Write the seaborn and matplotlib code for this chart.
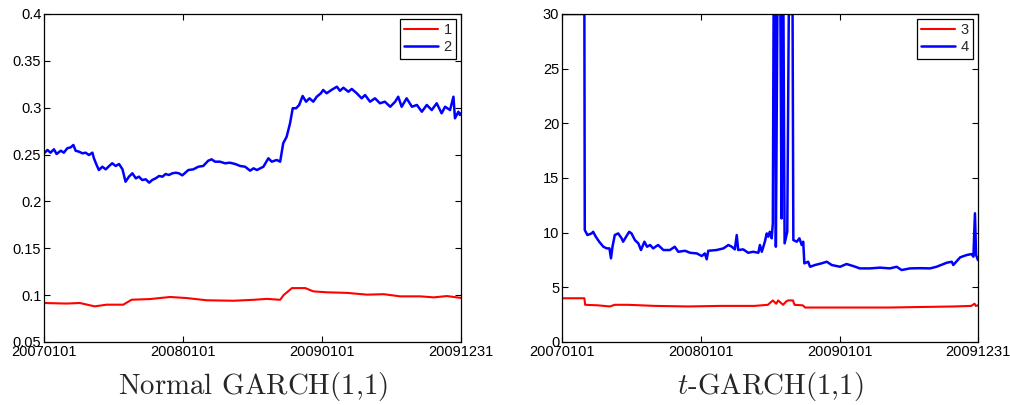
import pandas as pd
import matplotlib.pyplot as plt
import seaborn as sns

# ---- data (x = calendar day since 2007-01-01) ----
# Normal GARCH(1,1): series 1 (red) and 2 (blue)
days_n1 = [0, 59, 94, 133, 164, 208, 230, 278, 331, 374, 427, 497, 550, 585,
           620, 629, 651, 686, 707, 743, 795, 848, 892, 935, 988, 1023, 1058, 1095]
vals_n1 = [0.0916, 0.091, 0.0916, 0.088, 0.0898, 0.0898, 0.0951, 0.0958, 0.098,
           0.0969, 0.0945, 0.094, 0.095, 0.096, 0.095, 0.100, 0.1075, 0.1075,
           0.104, 0.103, 0.1024, 0.1005, 0.101, 0.0987, 0.0987, 0.0976, 0.099, 0.097]

days_n2 = [0, 9, 17, 26, 33, 44, 52, 61, 70, 77, 83, 92, 101, 109, 118, 127, 131,
           138, 144, 153, 162, 171, 179, 188, 197, 206, 214, 223, 232, 241, 249,
           258, 267, 276, 284, 293, 302, 311, 319, 328, 337, 346, 354, 363, 379,
           392, 405, 418, 431, 440, 449, 462, 475, 488, 502, 515, 528, 541, 550,
           559, 576, 589, 598, 611, 620, 628, 637, 646, 653, 662, 670, 679, 688,
           697, 707, 716, 727, 733, 742, 755, 769, 777, 786, 799, 808, 821, 834,
           843, 856, 869, 882, 895, 909, 922, 930, 939, 952, 966, 979, 992, 1005,
           1018, 1031, 1044, 1053, 1066, 1075, 1079, 1088, 1092, 1095]
vals_n2 = [0.2513, 0.2549, 0.252, 0.2556, 0.2506, 0.2541, 0.252, 0.2567, 0.2577,
           0.2602, 0.2541, 0.253, 0.2513, 0.252, 0.2495, 0.252, 0.246, 0.2389,
           0.2335, 0.237, 0.2342, 0.2378, 0.2407, 0.2378, 0.2399, 0.2342, 0.221,
           0.2264, 0.23, 0.2246, 0.2264, 0.2228, 0.2236, 0.22, 0.2228, 0.2246,
           0.2271, 0.2264, 0.2292, 0.2282, 0.23, 0.2306, 0.23, 0.2278, 0.2335,
           0.2342, 0.237, 0.2378, 0.2434, 0.2449, 0.2424, 0.2424, 0.2407, 0.2413,
           0.2399, 0.2378, 0.237, 0.2328, 0.2353, 0.2335, 0.237, 0.246, 0.2424,
           0.2442, 0.2424, 0.262, 0.269, 0.2834, 0.2994, 0.2994, 0.3029, 0.3125,
           0.3064, 0.31, 0.3064, 0.3117, 0.3154, 0.3189, 0.3154, 0.319, 0.3224,
           0.318, 0.3213, 0.317, 0.320, 0.3154, 0.310, 0.3135, 0.3064, 0.310,
           0.3047, 0.3064, 0.301, 0.3064, 0.3117, 0.301, 0.310, 0.301, 0.3029,
           0.2957, 0.3029, 0.2975, 0.3047, 0.294, 0.301, 0.2975, 0.3117, 0.2887,
           0.2957, 0.2922, 0.294]

# t-GARCH(1,1): series 3 (red) and 4 (blue)
days_t3 = [0, 59, 61, 95, 126, 139, 174, 244, 332, 419, 507, 542, 555, 564, 569,
           582, 590, 595, 608, 612, 634, 640, 683, 770, 858, 946, 1034, 1077,
           1086, 1089, 1095]
vals_t3 = [4.0, 4.0, 3.4, 3.35, 3.25, 3.4, 3.4, 3.3, 3.25, 3.3, 3.3, 3.4, 3.8,
           3.5, 3.8, 3.4, 3.7, 3.8, 3.8, 3.4, 3.35, 3.15, 3.15, 3.15, 3.15, 3.2,
           3.25, 3.3, 3.5, 3.3, 3.35]

days_t4 = [0, 59, 60, 67, 78, 82, 89, 98, 109, 118, 125, 129, 133, 139, 148, 157,
           161, 170, 177, 183, 192, 201, 208, 217, 224, 232, 240, 253, 267, 284,
           297, 306, 324, 337, 355, 368, 376, 381, 385, 407, 425, 438, 447, 455,
           460, 464, 477, 490, 503, 517, 521, 526, 534, 539, 543, 547, 552, 555,
           557, 561, 563, 567, 575, 578, 581, 583, 586, 593, 597, 607, 609, 618,
           625, 631, 635, 638, 648, 653, 666, 683, 697, 710, 732, 749, 767, 784,
           811, 837, 863, 881, 894, 916, 942, 969, 986, 1013, 1026, 1030, 1048,
           1065, 1078, 1083, 1087, 1090, 1095]
vals_t4 = [30, 30, 10.24, 9.78, 9.93, 10.08, 9.63, 9.17, 8.71, 8.56, 8.56, 7.65,
           8.71, 9.78, 9.93, 9.48, 9.17, 9.69, 10.08, 9.93, 9.32, 9.02, 8.41,
           9.17, 8.71, 8.87, 8.56, 8.87, 8.41, 8.41, 8.71, 8.25, 8.34, 8.16, 8.1,
           7.86, 8.1, 7.56, 8.34, 8.41, 8.56, 8.87, 8.71, 8.47, 9.78, 8.41, 8.47,
           8.16, 8.25, 8.16, 8.87, 8.25, 9.17, 9.93, 9.63, 10.08, 9.48, 10.85,
           30, 30, 8.71, 30, 30, 11.3, 30, 30, 9.02, 10.08, 30, 30, 9.32, 9.17,
           9.48, 8.87, 9.17, 7.19, 7.34, 6.88, 7.04, 7.19, 7.34, 7.04, 6.88, 7.13,
           6.94, 6.73, 6.73, 6.8, 6.73, 6.88, 6.58, 6.73, 6.75, 6.73, 6.88, 7.25,
           7.34, 7.04, 7.74, 7.95, 8.04, 7.8, 11.77, 7.95, 7.49]

tick_days = [0, 365, 731, 1095]
tick_labels = ['20070101', '20080101', '20090101', '20091231']
yticks_n = [0.05, 0.1, 0.15, 0.2, 0.25, 0.3, 0.35, 0.4]
yticks_t = [0, 5, 10, 15, 20, 25, 30]

sns.set_style('ticks')
plt.rcParams['font.family'] = ['Liberation Sans', 'DejaVu Sans']
plt.rcParams['mathtext.fontset'] = 'cm'

fig = plt.figure(figsize=(10.1, 4.05), dpi=100)
ax1 = fig.add_axes([0.0436, 0.1556, 0.4129, 0.8099])
ax2 = fig.add_axes([0.5564, 0.1556, 0.4119, 0.8099])

panels = [
    (ax1, days_n1, vals_n1, '1', days_n2, vals_n2, '2', yticks_n,
     r'$\text{Normal GARCH(1,1)}$'),
    (ax2, days_t3, vals_t3, '3', days_t4, vals_t4, '4', yticks_t,
     r'$t\text{-GARCH(1,1)}$'),
]

for ax, xr, yr, lr, xb, yb, lb, yt, title in panels:
    sns.lineplot(x=xr, y=yr, color='#ff0000', lw=1.5, label=lr, ax=ax,
                 estimator=None, sort=False)
    sns.lineplot(x=xb, y=yb, color='#0000ff', lw=1.8, label=lb, ax=ax,
                 estimator=None, sort=False)
    ax.set_xlim(0, 1095)
    ax.set_ylim(yt[0], yt[-1])
    ax.set_xticks(tick_days)
    ax.set_xticklabels(tick_labels)
    ax.set_yticks(yt)
    ax.set_yticklabels([f'{v:g}' for v in yt])
    ax.tick_params(direction='in', length=4.5, width=0.8, top=True, right=True,
                   labelsize=10.5, pad=2, colors='black')
    for s in ax.spines.values():
        s.set_linewidth(0.9)
        s.set_color('black')
    ax.set_xlabel(title, fontsize=20.8, labelpad=8)
    leg = ax.legend(loc='upper right', fontsize=10.5, fancybox=False,
                    framealpha=1, edgecolor='black', handlelength=2.3,
                    handletextpad=0.4, borderpad=0.3, labelspacing=0.2,
                    borderaxespad=0.35)
    leg.get_frame().set_linewidth(0.9)

fig.savefig('out.png', dpi=100)
